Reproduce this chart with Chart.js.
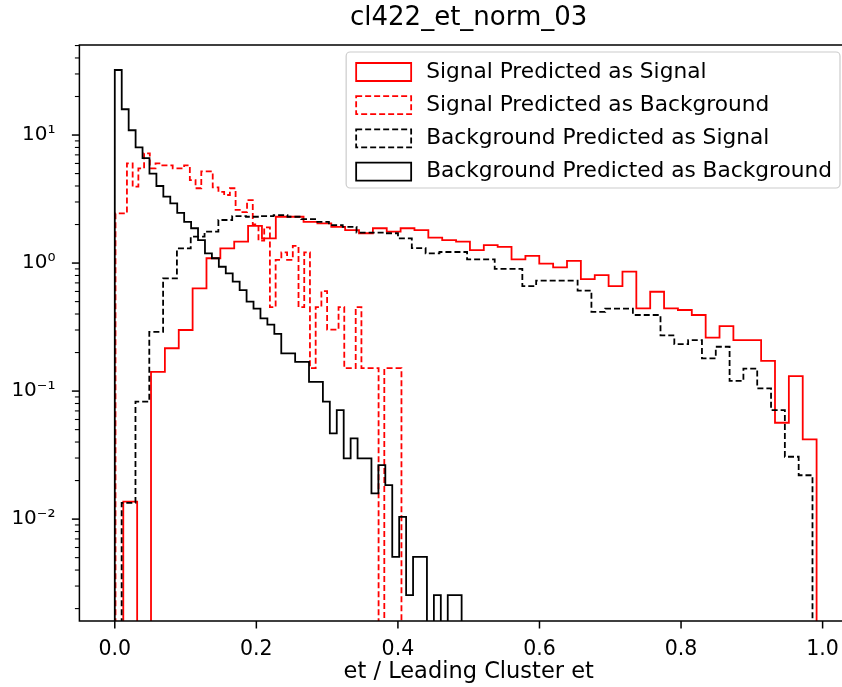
<!DOCTYPE html>
<html>
<head>
<meta charset="utf-8">
<script src="https://cdn.jsdelivr.net/npm/chart.js@4.4.1/dist/chart.umd.min.js"></script>
<style>
html,body{margin:0;padding:0;background:#fff;overflow:hidden}
#wrap{width:842px;height:687px;overflow:hidden;position:relative}
canvas{display:block}
</style>
</head>
<body>
<div id="wrap"><canvas id="c" width="860" height="687"></canvas></div>
<script>
// ---------------- data ----------------
const TITLE = 'cl422_et_norm_03';
const X_LABEL = 'et / Leading Cluster et';
const SERIES_NAMES = [
  'Signal Predicted as Signal',
  'Signal Predicted as Background',
  'Background Predicted as Signal',
  'Background Predicted as Background'
];
const X_TICKS = [0.0, 0.2, 0.4, 0.6, 0.8, 1.0];
const X_TICK_LABELS = ['0.0', '0.2', '0.4', '0.6', '0.8', '1.0'];
const Y_DECADES = [0.01, 0.1, 1, 10];
const Y_DECADE_LABELS = ['10\u207B\u00B2', '10\u207B\u00B9', '10\u2070', '10\u00B9'];

// bin ranges [first edge, last edge] of each histogram (50 bins each)
const SS_RANGE = [0.012, 0.9915];
const SB_RANGE = [0.001, 0.405];
const BS_RANGE = [0.0097, 0.9857];
const BB_RANGE = [0.0, 0.49];

// Signal Predicted as Signal (red, solid)
const SS_VALUES = [0.0137, 0, 0.1415, 0.216, 0.30, 0.634, 1.09, 1.30, 1.47, 1.95,
  1.56, 2.30, 2.30, 2.10, 2.04, 1.92, 1.81, 1.71, 1.87, 1.76,
  1.87, 1.81, 1.58, 1.51, 1.47, 1.26, 1.38, 1.34, 1.07, 1.14,
  0.99, 0.925, 1.04, 0.75, 0.806, 0.66, 0.857, 0.443, 0.597, 0.443,
  0.43, 0.393, 0.262, 0.322, 0.25, 0.25, 0.172, 0.0566, 0.131, 0.042];
// Signal Predicted as Background (red, dashed)
const SB_VALUES = [2.44, 2.44, 6.0, 3.95, 5.5, 7.2, 5.5, 6.0, 5.8, 5.8,
  5.5, 5.5, 5.8, 4.45, 3.84, 5.2, 5.2, 3.9, 3.6, 3.4,
  3.84, 2.6, 2.5, 3.1, 2.0, 1.5, 1.9, 0.453, 1.06, 1.21,
  1.06, 1.36, 0.453, 1.21, 0.151, 0.453, 0.604, 0.302, 0.302, 0.453,
  0.151, 0.151, 0.453, 0.151, 0.151, 0.151, 0, 0.151, 0.151, 0.151];
// Background Predicted as Signal (black, dashed)
const BS_VALUES = [0.0134, 0.0826, 0.29, 0.76, 1.30, 1.61, 1.76, 2.17, 2.33, 2.30,
  2.33, 2.37, 2.30, 2.20, 2.10, 1.98, 1.92, 1.73, 1.73, 1.71,
  1.56, 1.31, 1.19, 1.22, 1.22, 1.07, 1.07, 0.90, 0.90, 0.66,
  0.73, 0.73, 0.73, 0.61, 0.415, 0.44, 0.44, 0.393, 0.393, 0.272,
  0.233, 0.25, 0.18, 0.222, 0.12, 0.15, 0.105, 0.071, 0.0307, 0.022];
// Background Predicted as Background (black, solid)
const BB_VALUES = [32.2, 15.9, 10.9, 8.0, 6.6, 5.0, 4.0, 3.3, 2.93, 2.47,
  2.10, 1.87, 1.51, 1.19, 1.09, 0.936, 0.83, 0.715, 0.615, 0.50,
  0.44, 0.37, 0.33, 0.28, 0.197, 0.197, 0.169, 0.169, 0.118, 0.118,
  0.0826, 0.0468, 0.0711, 0.0298, 0.0427, 0.0298, 0.0298, 0.0159, 0.0264, 0.0184,
  0.00507, 0.0104, 0.00255, 0.00507, 0.00507, 0, 0.00255, 0, 0.00255, 0.00255];

// ---------------- helpers ----------------
const X_MIN = -0.05, X_MAX = 1.05;
const Y_MIN = 0.0016, Y_MAX = 50.5;
const EMPTY_FLOOR = 1e-5;   // empty bins are drawn down past the axis bottom
const FONT = "'DejaVu Sans', 'Liberation Sans', sans-serif";

function stepPoints(range, values) {
  const n = values.length;
  const w = (range[1] - range[0]) / n;
  const val = v => (v > 0 ? v : EMPTY_FLOOR);
  const pts = [{x: range[0], y: EMPTY_FLOOR}];
  values.forEach((v, i) => pts.push({x: range[0] + i * w, y: val(v)}));
  pts.push({x: range[1], y: val(values[n - 1])});
  pts.push({x: range[1], y: EMPTY_FLOOR});
  return pts;
}

const yTickValues = [];
for (let e = -3; e <= 1; e++) {
  for (let m = 1; m <= 9; m++) {
    const v = m * Math.pow(10, e);
    if (v >= Y_MIN && v <= Y_MAX) yTickValues.push(v);
  }
}

function ds(label, range, values, color, dashed, order) {
  return {
    label, data: stepPoints(range, values),
    borderColor: color, backgroundColor: 'rgba(0,0,0,0)',
    borderWidth: 1.8, borderDash: dashed ? [6, 3] : [],
    stepped: 'before', pointRadius: 0, fill: false, tension: 0, order
  };
}

const datasets = [
  ds(SERIES_NAMES[0], SS_RANGE, SS_VALUES, '#ff0000', false, 4),
  ds(SERIES_NAMES[1], SB_RANGE, SB_VALUES, '#ff0000', true, 3),
  ds(SERIES_NAMES[2], BS_RANGE, BS_VALUES, '#000000', true, 2),
  ds(SERIES_NAMES[3], BB_RANGE, BB_VALUES, '#000000', false, 1)
];

// ---------------- axes frame + ticks + legend (matplotlib look) ----------------
const LEGEND_FONT_SIZE = 21.7;
const mplPlugin = {
  id: 'mplFrame',
  afterDatasetsDraw(chart) {
    const {ctx, chartArea: a, scales: {x, y}} = chart;
    ctx.save();
    ctx.strokeStyle = '#000';
    ctx.lineWidth = 1.5;
    ctx.setLineDash([]);
    ctx.beginPath();
    ctx.rect(a.left, a.top, a.right - a.left, a.bottom - a.top);
    ctx.stroke();
    ctx.beginPath();
    X_TICKS.forEach(v => {
      const px = x.getPixelForValue(v);
      ctx.moveTo(px, a.bottom); ctx.lineTo(px, a.bottom + 7.5);
    });
    ctx.stroke();
    y.ticks.forEach(t => {
      const py = y.getPixelForValue(t.value);
      const major = Y_DECADES.some(d => Math.abs(d - t.value) / d < 1e-6);
      ctx.beginPath();
      ctx.lineWidth = major ? 1.5 : 1.1;
      ctx.moveTo(a.left, py); ctx.lineTo(a.left - (major ? 7.5 : 4.5), py);
      ctx.stroke();
    });

    // legend
    ctx.font = LEGEND_FONT_SIZE + 'px ' + FONT;
    const textW = Math.max(...chart.data.datasets.map(d => ctx.measureText(d.label).width));
    const pad = 10, handleW = 55, gap = 15, rowH = 33.2;
    const right = 840, top = a.top + 7;
    const w = pad + handleW + gap + textW + 8;
    const h = 136;
    const left = right - w;
    ctx.beginPath();
    ctx.roundRect(left, top, w, h, 4);
    ctx.fillStyle = 'rgba(255,255,255,0.8)';
    ctx.fill();
    ctx.strokeStyle = '#cccccc';
    ctx.lineWidth = 1.2;
    ctx.stroke();
    chart.data.datasets.forEach((d, i) => {
      const cy = top + 20 + i * rowH;
      ctx.beginPath();
      ctx.setLineDash(d.borderDash);
      ctx.strokeStyle = d.borderColor;
      ctx.lineWidth = 1.8;
      ctx.rect(left + pad, cy - 9, handleW, 18);
      ctx.stroke();
      ctx.setLineDash([]);
      ctx.fillStyle = '#000';
      ctx.textBaseline = 'middle';
      ctx.textAlign = 'left';
      ctx.fillText(d.label, left + pad + handleW + gap, cy);
    });
    ctx.restore();
  }
};

new Chart(document.getElementById('c'), {
  type: 'line',
  data: {datasets},
  options: {
    responsive: false, animation: false, devicePixelRatio: 1,
    layout: {padding: {left: 0, right: 2, top: 0, bottom: 0}},
    plugins: {legend: {display: false}, tooltip: {enabled: false}, title: {display: false}},
    scales: {
      x: {
        type: 'linear', position: 'bottom', min: X_MIN, max: X_MAX,
        afterBuildTicks: s => { s.ticks = X_TICKS.map(v => ({value: v})); },
        afterFit: s => { s.height = 66; },
        grid: {display: false}, border: {display: false},
        ticks: {
          autoSkip: false, maxRotation: 0, padding: 8, color: '#000',
          font: {family: FONT, size: 20.5},
          callback: (v) => { const i = X_TICKS.findIndex(t => Math.abs(t - v) < 1e-9); return i >= 0 ? X_TICK_LABELS[i] : ''; }
        },
        title: {display: true, text: X_LABEL, color: '#000', font: {family: FONT, size: 22.5}, padding: {top: 0, bottom: 1.5}}
      },
      top: {
        type: 'linear', position: 'top', min: X_MIN, max: X_MAX,
        afterFit: s => { s.height = 45; },
        grid: {display: false}, border: {display: false}, ticks: {display: false},
        title: {display: true, text: TITLE, color: '#000', font: {family: FONT, size: 26}, padding: {top: 3, bottom: 0}}
      },
      y: {
        type: 'logarithmic', position: 'left', min: Y_MIN, max: Y_MAX,
        afterBuildTicks: s => { s.ticks = yTickValues.map(v => ({value: v})); },
        afterFit: s => { s.width = 79.4; },
        grid: {display: false}, border: {display: false},
        ticks: {
          autoSkip: false, padding: 16, color: '#000',
          font: {family: FONT, size: 20},
          callback: (v) => { const i = Y_DECADES.findIndex(d => Math.abs(d - v) / d < 1e-6); return i >= 0 ? Y_DECADE_LABELS[i] : ''; }
        }
      }
    }
  },
  plugins: [mplPlugin]
});
</script>
</body>
</html>
